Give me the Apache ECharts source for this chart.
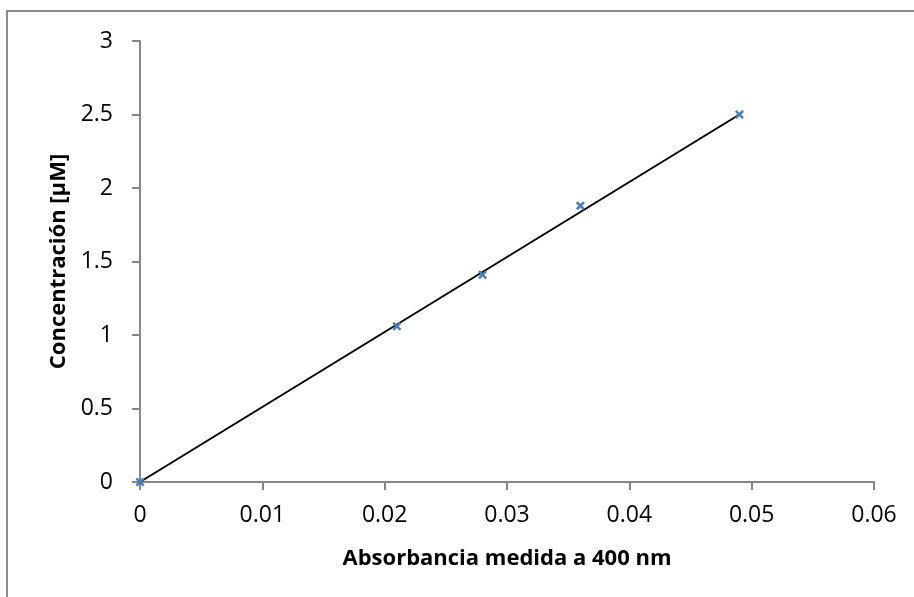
<!DOCTYPE html>
<html>
<head>
<meta charset="utf-8">
<script src="https://cdn.jsdelivr.net/npm/echarts@6/dist/echarts.min.js"></script>
<style>
  html, body { margin: 0; padding: 0; background: #fff; }
  #main { width: 914px; height: 597px; }
</style>
</head>
<body>
<div id="main"></div>
<script>
var absorbancia = [0, 0.021, 0.028, 0.036, 0.049];
var concentracion = [0, 1.06, 1.41, 1.88, 2.5];
// trend line end points
var trendX = [0, 0.049];
var trendY = [0, 2.5];

var points = absorbancia.map(function (x, i) { return [x, concentracion[i]]; });
var trend = trendX.map(function (x, i) { return [x, trendY[i]]; });

var axisGray = '#868686';
var font = 'Open Sans';

var option = {
  animation: false,
  backgroundColor: '#fff',
  grid: { left: 140, right: 40, top: 41, bottom: 115 },
  graphic: [{
    type: 'polyline',
    shape: { points: [[7, 597], [7, 11], [914, 11]] },
    style: { stroke: '#8c8c8c', lineWidth: 2, fill: null }
  }],
  xAxis: {
    type: 'value',
    min: 0,
    max: 0.06,
    interval: 0.01,
    name: 'Absorbancia medida a 400 nm',
    nameLocation: 'middle',
    nameGap: 66,
    nameTextStyle: { fontFamily: font, fontWeight: 'bold', fontSize: 22, color: '#000' },
    axisLine: { lineStyle: { color: axisGray, width: 2 } },
    axisTick: { show: true, length: 8, lineStyle: { color: axisGray, width: 2 } },
    axisLabel: { fontFamily: font, fontSize: 23, color: '#000', margin: 22 },
    splitLine: { show: false }
  },
  yAxis: {
    type: 'value',
    min: 0,
    max: 3,
    interval: 0.5,
    name: 'Concentración [µM]',
    nameLocation: 'middle',
    nameGap: 69,
    nameTextStyle: { fontFamily: font, fontWeight: 'bold', fontSize: 22, color: '#000' },
    axisLine: { show: true, lineStyle: { color: axisGray, width: 2 } },
    axisTick: { show: true, length: 8, lineStyle: { color: axisGray, width: 2 } },
    axisLabel: { fontFamily: font, fontSize: 23, color: '#000', margin: 27 },
    splitLine: { show: false }
  },
  series: [
    {
      type: 'line',
      data: trend,
      symbol: 'none',
      lineStyle: { color: '#000', width: 2 },
      z: 2
    },
    {
      type: 'scatter',
      data: points,
      symbol: 'path://M2,0 L5,3 L8,0 L10,2 L7,5 L10,8 L8,10 L5,7 L2,10 L0,8 L3,5 L0,2 Z',
      symbolSize: 9,
      itemStyle: { color: '#4a7ebb', opacity: 1 },
      z: 3
    }
  ]
};

var chartDom = document.getElementById('main');
var myChart = echarts.init(chartDom);
option && myChart.setOption(option);
</script>
</body>
</html>
